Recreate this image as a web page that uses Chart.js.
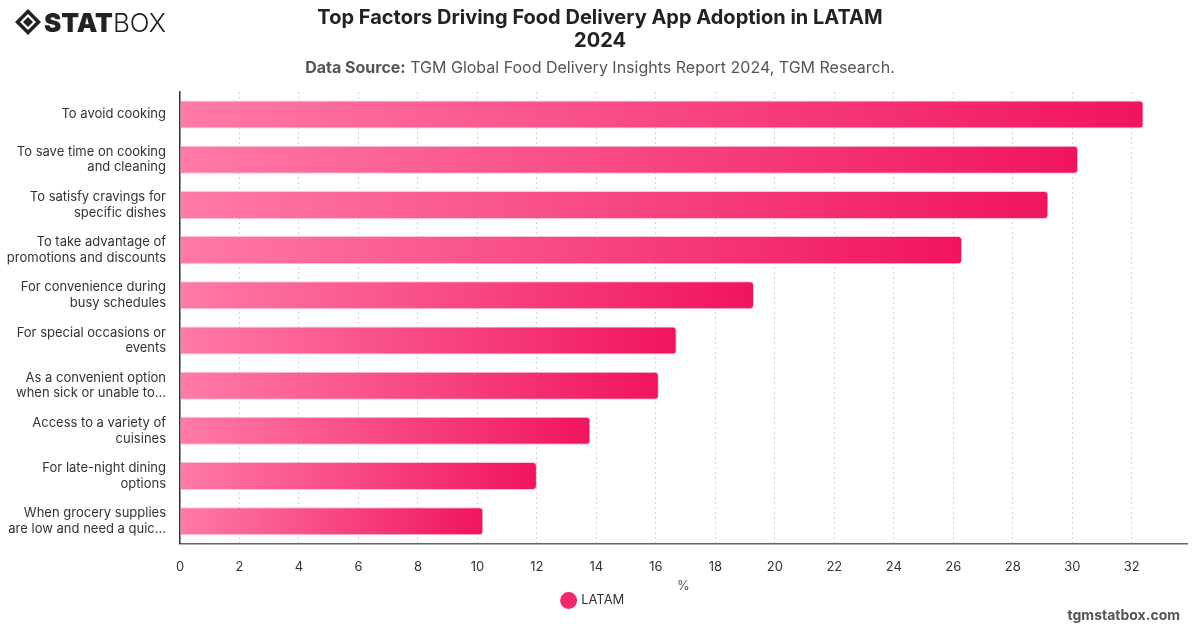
<!DOCTYPE html>
<html>
<head>
<meta charset="utf-8">
<script src="https://cdn.jsdelivr.net/npm/chart.js@4.4.1/dist/chart.umd.min.js"></script>
<style>
  html, body { margin: 0; padding: 0; background: #fff; }
  #wrap { width: 1200px; height: 628px; position: relative; }
</style>
</head>
<body>
<div id="wrap"><canvas id="grafico" width="1200" height="628"></canvas></div>
<script>
const categorias = [
    ['To avoid cooking'],
    ['To save time on cooking', 'and cleaning'],
    ['To satisfy cravings for', 'specific dishes'],
    ['To take advantage of', 'promotions and discounts'],
    ['For convenience during', 'busy schedules'],
    ['For special occasions or', 'events'],
    ['As a convenient option', 'when sick or unable to...'],
    ['Access to a variety of', 'cuisines'],
    ['For late-night dining', 'options'],
    ['When grocery supplies', 'are low and need a quic...'],
];
const valoresLatam = [32.4, 30.2, 29.2, 26.3, 19.3, 16.7, 16.1, 13.8, 12.0, 10.2];
const serieNome = 'LATAM';
const tituloLinhas = ['Top Factors Driving Food Delivery App Adoption in LATAM', '2024'];
const fonteRotulo = 'Data Source:';
const fonteTexto = ' TGM Global Food Delivery Insights Report 2024, TGM Research.';
const rodape = 'tgmstatbox.com';

const FONTE = "Inter, 'Liberation Sans', sans-serif";

function gradienteBarra(ctx) {
    const chart = ctx.chart;
    if (!chart.chartArea || ctx.parsed === undefined) return '#f7407e';
    const x = chart.scales.x;
    const x0 = x.getPixelForValue(0);
    const x1 = x.getPixelForValue(ctx.parsed.x);
    if (!isFinite(x0) || !isFinite(x1) || x1 <= x0) return '#f7407e';
    const g = chart.ctx.createLinearGradient(x0, 0, x1, 0);
    g.addColorStop(0, '#ff7aa9');
    g.addColorStop(1, '#f0145f');
    return g;
}

const cabecalho = {
    id: 'cabecalho',
    afterDraw(chart) {
        const c = chart.ctx;
        c.save();
        // titulo
        c.fillStyle = '#222';
        c.textAlign = 'center';
        c.textBaseline = 'middle';
        c.font = 'bold 20px ' + FONTE;
        c.fillText(tituloLinhas[0], 600, 18);
        c.fillText(tituloLinhas[1], 600, 41);
        // subtitulo
        c.font = 'bold 16px ' + FONTE;
        const w1 = c.measureText(fonteRotulo).width;
        c.font = '16px ' + FONTE;
        const w2 = c.measureText(fonteTexto).width;
        let sx = 600 - (w1 + w2) / 2;
        c.textAlign = 'left';
        c.fillStyle = '#555';
        c.font = 'bold 16px ' + FONTE;
        c.fillText(fonteRotulo, sx, 68);
        c.font = '16px ' + FONTE;
        c.fillText(fonteTexto, sx + w1, 68);
        // rodape
        c.textAlign = 'right';
        c.fillStyle = '#555';
        c.font = 'bold 14px ' + FONTE;
        c.fillText(rodape, 1180, 616);
        // logo
        const cx = 28, cy = 22;
        c.fillStyle = '#222';
        c.beginPath();
        c.moveTo(cx, cy - 13); c.lineTo(cx + 13, cy); c.lineTo(cx, cy + 13); c.lineTo(cx - 13, cy); c.closePath();
        c.fill();
        c.fillStyle = '#fff';
        c.beginPath();
        c.moveTo(cx, cy - 8); c.lineTo(cx + 8, cy); c.lineTo(cx, cy + 8); c.lineTo(cx - 8, cy); c.closePath();
        c.fill();
        c.fillStyle = '#222';
        c.beginPath();
        c.moveTo(cx, cy - 5); c.lineTo(cx + 5, cy); c.lineTo(cx, cy + 5); c.lineTo(cx - 5, cy); c.closePath();
        c.fill();
        c.textBaseline = 'alphabetic';
        c.textAlign = 'left';
        c.font = '900 26px ' + FONTE;
        c.fillText('STAT', 44, 32);
        const ws = c.measureText('STAT').width;
        c.font = '300 26px ' + FONTE;
        c.fillText('BOX', 44 + ws, 32);
        c.restore();
    }
};

const data = {
    labels: categorias,
    datasets: [{
        label: serieNome,
        data: valoresLatam,
        backgroundColor: gradienteBarra,
        borderColor: 'rgba(230, 20, 90, 0.25)',
        borderWidth: 1,
        borderRadius: 4,
        borderSkipped: 'start',
        barPercentage: 0.62,
        categoryPercentage: 1,
    }]
};

const config = {
    type: 'bar',
    data: data,
    plugins: [cabecalho],
    options: {
        indexAxis: 'y',
        responsive: false,
        animation: false,
        layout: { padding: { top: 92, left: 0, right: 13, bottom: 11 } },
        scales: {
            x: {
                min: 0,
                max: Math.max(...valoresLatam) * 1.045,
                grid: {
                    drawTicks: false,
                    color: '#d4d4d4',
                    lineWidth: 1,
                },
                border: { display: true, color: '#666', width: 1.5, dash: [2, 3] },
                ticks: {
                    stepSize: 2,
                    padding: 15,
                    color: '#333',
                    font: { family: FONTE, size: 13 },
                },
                afterBuildTicks(scale) {
                    const ticks = [];
                    for (let v = 0; v <= scale.max; v += 2) ticks.push({ value: v });
                    scale.ticks = ticks;
                },
                title: {
                    display: true,
                    text: '%',
                    color: '#555',
                    font: { family: FONTE, size: 13 },
                    padding: { top: -11, bottom: -4 },
                },
            },
            y: {
                border: { display: true, color: '#333', width: 1.5 },
                grid: { display: false, drawTicks: false },
                ticks: {
                    padding: 14,
                    color: '#333',
                    font: { family: FONTE, size: 13 },
                },
                afterFit(scale) {
                    scale.width = 180;
                },
            },
        },
        plugins: {
            legend: {
                position: 'bottom',
                labels: {
                    usePointStyle: true,
                    pointStyle: 'circle',
                    boxWidth: 12,
                    boxHeight: 12,
                    padding: 4,
                    color: '#333',
                    font: { family: FONTE, size: 13 },
                    generateLabels() {
                        return [{
                            text: serieNome,
                            fillStyle: '#f2266c',
                            strokeStyle: '#f2266c',
                            lineWidth: 0,
                            pointStyle: 'circle',
                            hidden: false,
                            datasetIndex: 0,
                            fontColor: '#333',
                        }];
                    },
                },
            },
            tooltip: { enabled: false },
        },
    },
};

const grafico = new Chart(document.getElementById('grafico'), config);
</script>
</body>
</html>
